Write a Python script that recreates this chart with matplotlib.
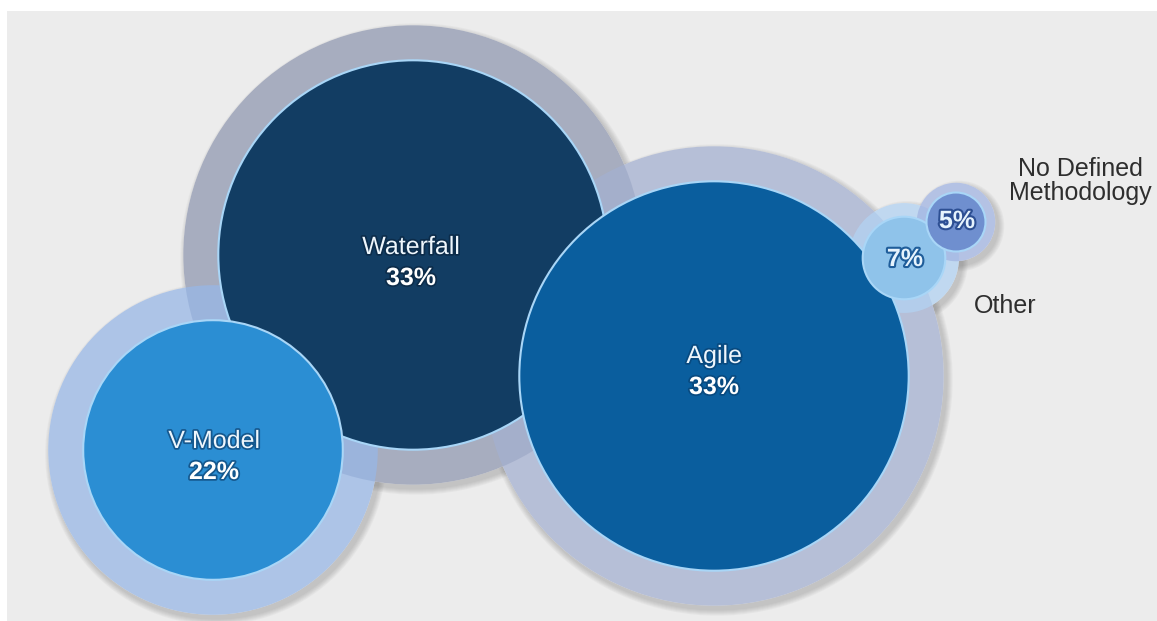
import matplotlib
matplotlib.use("Agg")
import matplotlib.pyplot as plt
from matplotlib.patches import Circle, Rectangle
import matplotlib.patheffects as pe

# Data
methods = ["Waterfall", "V-Model", "Agile", "Other", "No Defined\nMethodology"]
shares = [33, 22, 33, 7, 5]

# Layout (pixel coordinates of bubble centres and label anchors)
centers = [(413, 255), (213, 450), (714, 376), (904, 258), (956, 222)]
label_pos = [(411, 262), (214, 456), (714, 371), (905, 259), (957, 221)]
inner_colors = ["#123d63", "#2b8ed3", "#0a5e9e", "#8fc3ea", "#6f8fcf"]
ring_colors = ["#9098b0", "#98b7e6", "#a4b0d0", "#b2d2f2", "#a2b4e2"]
text_stroke = ["#0c2c4a", "#15588e", "#084a80", "#1f5d9a", "#2d4f93"]
PX_PER_PCT = 5.9
BG = '#ececec'

plt.rcParams['font.family'] = ['Liberation Sans', 'DejaVu Sans']

fig = plt.figure(figsize=(11.57, 6.21), dpi=100)
fig.patch.set_facecolor('white')
ax = fig.add_axes([0, 0, 1, 1])
ax.set_xlim(0, 1157)
ax.set_ylim(621, 0)
ax.axis('off')

# grey panel
ax.add_patch(Rectangle((7, 11), 1150, 610, facecolor=BG, edgecolor='none', zorder=0))

radii = [v * PX_PER_PCT for v in shares]
rings = [min(35, 0.33 * r) for r in radii]

# soft shadows
for (x, y), r, w in zip(centers, radii, rings):
    for k in range(6):
        ax.add_patch(Circle((x + 3, y + 4), r + w + 1 + k, facecolor='#606060',
                            edgecolor='none', alpha=0.05, zorder=1))
    # hide shadow under the ring itself
    ax.add_patch(Circle((x, y), r + w, facecolor=BG, edgecolor='none', zorder=1.5))

# outer rings (semi transparent, overlaps get darker)
for (x, y), r, w, c in zip(centers, radii, rings, ring_colors):
    ax.add_patch(Circle((x, y), r + w, facecolor=c, edgecolor='none', alpha=0.75, zorder=2))

# inner circles, drawn in order Waterfall -> V-Model -> Agile -> small ones
for i, ((x, y), r, c) in enumerate(zip(centers, radii, inner_colors)):
    ax.add_patch(Circle((x, y), r, facecolor=c, edgecolor='#a9d6f7',
                        linewidth=1.5, zorder=3 + i))

# labels inside the big bubbles
for i in range(3):
    x, y = label_pos[i]
    st = [pe.Stroke(linewidth=2.5, foreground=text_stroke[i]), pe.Normal()]
    ax.text(x, y - 15, methods[i], ha='center', va='center', fontsize=18,
            color='#eef6fc', zorder=10, path_effects=st)
    ax.text(x, y + 16, f"{shares[i]}%", ha='center', va='center', fontsize=18,
            fontweight='bold', color='white', zorder=10, path_effects=st)

# percentages in the small bubbles
for i in (3, 4):
    x, y = label_pos[i]
    st = [pe.Stroke(linewidth=3, foreground=text_stroke[i]), pe.Normal()]
    ax.text(x, y, f"{shares[i]}%", ha='center', va='center', fontsize=18,
            fontweight='bold', color='#e6f3fd', zorder=10, path_effects=st)

# outside labels
ax.text(1005, 306, methods[3], ha='center', va='center', fontsize=18, color='#2e2e2e', zorder=10)
ax.text(1080, 181, methods[4], ha='center', va='center', fontsize=18, color='#2e2e2e',
        linespacing=1.0, zorder=10)

plt.savefig('out.png', dpi=100)
plt.close()
